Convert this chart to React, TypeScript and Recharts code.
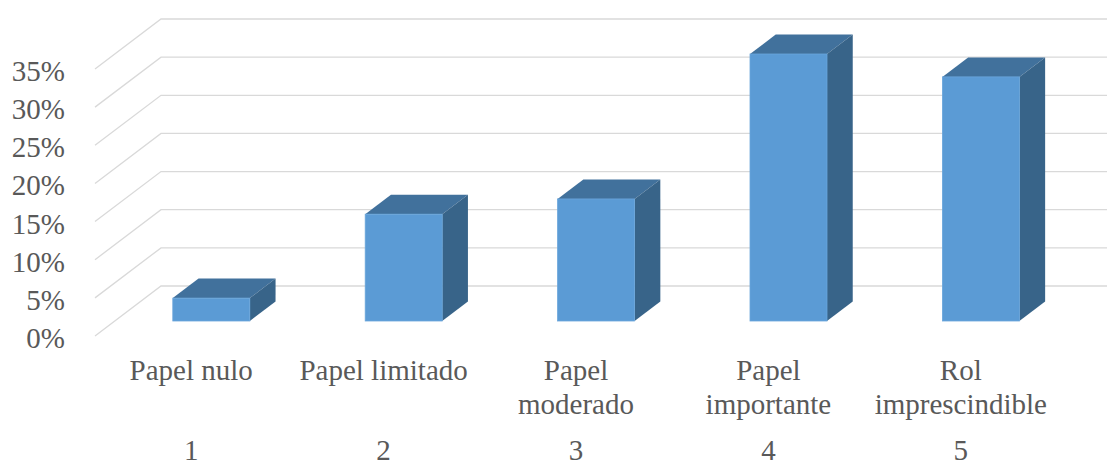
import React from "react";
import { BarChart, Bar, XAxis, YAxis, CartesianGrid } from "recharts";

const categories = ["Papel nulo", "Papel limitado", "Papel\nmoderado", "Papel\nimportante", "Rol\nimprescindible"];
const levels = ["1", "2", "3", "4", "5"];
const values = [3, 14, 16, 35, 32];
const yTicks = [0, 5, 10, 15, 20, 25, 30, 35];

const data = categories.map((name, i) => ({ name, level: levels[i], value: values[i] }));

// 3D projection: full floor depth and where the bars sit inside it
const DEPTH_X = 66;
const DEPTH_Y = -50;
const BAR_FRONT = 0.3;
const BAR_DEPTH = 0.39;

const FONT = "'Liberation Serif', 'Times New Roman', Times, 'Nimbus Roman', FreeSerif, 'DejaVu Serif', serif";
const TEXT = "#595959";
const GRID = "#d9d9d9";

function GridLine(props: any) {
  const { x1, y1, x2, key } = props;
  const bx = x1 + DEPTH_X;
  const by = y1 + DEPTH_Y;
  return (
    <path
      key={key}
      d={`M${x1},${y1} L${bx},${by} L${x2 + DEPTH_X},${by}`}
      stroke={GRID}
      strokeWidth={1.3}
      fill="none"
    />
  );
}

function Box3D(props: any) {
  const { x, y, width, height } = props;
  const x0 = x + DEPTH_X * BAR_FRONT;
  const y0 = y + DEPTH_Y * BAR_FRONT;
  const dx = DEPTH_X * BAR_DEPTH;
  const dy = DEPTH_Y * BAR_DEPTH;
  const x1 = x0 + width;
  const y1 = y0 + height;
  return (
    <g>
      <polygon
        points={`${x0},${y0} ${x0 + dx},${y0 + dy} ${x1 + dx},${y0 + dy} ${x1},${y0}`}
        fill="#41719c"
      />
      <polygon
        points={`${x1},${y0} ${x1 + dx},${y0 + dy} ${x1 + dx},${y1 + dy} ${x1},${y1}`}
        fill="#386489"
      />
      <rect x={x0} y={y0} width={width} height={height} fill="#5b9bd5" stroke="#6aa5db" strokeWidth={0.8} />
    </g>
  );
}

function CategoryTick(props: any) {
  const { x, y, payload, index } = props;
  const lines = String(payload.value).split("\n");
  return (
    <g fill={TEXT} textAnchor="middle">
      {lines.map((line, i) => (
        <text key={i} x={x} y={y + 36 + i * 34} style={{ fontFamily: FONT, fontSize: 29 }}>
          {line}
        </text>
      ))}
      <text x={x} y={y + 116} style={{ fontFamily: FONT, fontSize: 29 }}>
        {levels[index]}
      </text>
    </g>
  );
}

function ValueTick(props: any) {
  const { x, y, payload } = props;
  return (
    <text x={x} y={y + 12} textAnchor="end" fill={TEXT} style={{ fontFamily: FONT, fontSize: 29 }}>
      {`${payload.value}%`}
    </text>
  );
}

export default function App() {
  return (
    <div style={{ width: 1107, height: 466, background: "#fff" }}>
      <style>{`body{margin:0}`}</style>
      <BarChart
        width={1107}
        height={466}
        data={data}
        margin={{ top: 69, right: 50, left: 0, bottom: 0 }}
        barSize={77}
      >
        <CartesianGrid vertical={false} horizontal={GridLine} syncWithTicks />
        <YAxis
          width={95}
          domain={[0, 35]}
          ticks={yTicks}
          interval={0}
          axisLine={false}
          tickLine={false}
          tickMargin={24}
          tick={<ValueTick />}
        />
        <XAxis
          dataKey="name"
          height={130}
          axisLine={false}
          tickLine={false}
          interval={0}
          tick={<CategoryTick />}
        />
        <Bar dataKey="value" shape={<Box3D />} isAnimationActive={false} />
      </BarChart>
    </div>
  );
}
